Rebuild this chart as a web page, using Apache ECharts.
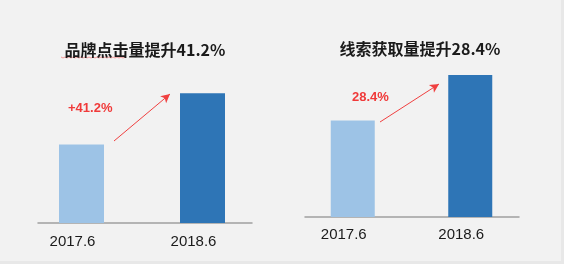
<!DOCTYPE html>
<html><head><meta charset="utf-8">
<script src="https://cdn.jsdelivr.net/npm/echarts@6/dist/echarts.min.js"></script>
<style>html,body{margin:0;padding:0;background:#f2f2f2}#c{width:564px;height:264px}</style>
</head><body><div id="c"></div>
<script>
const categories = ['2017.6', '2018.6'];
const clickValues = [60, 99];
const leadValues = [68, 100];
const clickTitle = '品牌点击量提升41.2%';
const leadTitle = '线索获取量提升28.4%';
const clickNote = '+41.2%';
const leadNote = '28.4%';
const barColors = ['#9dc3e6', '#2e75b6'];

const chart = echarts.init(document.getElementById('c'));
const labelStyle = {color:'#1a1a1a', fontSize:15, fontFamily:'Liberation Sans, Arial, sans-serif', padding:[0,18,0,0]};
function barData(vals){return vals.map((v,i)=>({value:v, itemStyle:{color:barColors[i]}}));}
// squiggle under part of the first title (spell-check mark in the original)
const squiggle = [];
for (let x = 61, k = 0; x <= 126; x += 2, k++) squiggle.push([x, 57 + (k % 2 ? 1 : 0)]);
const titleStyle = {fontSize:16, fontWeight:'bold', color:'#1a1a1a', fontFamily:'Noto Sans CJK SC'};
chart.setOption({
  backgroundColor:'#f2f2f2',
  animation:false,
  title:[
    {text:clickTitle, left:140, top:37, textAlign:'center', textStyle:titleStyle},
    {text:leadTitle, left:415, top:36, textAlign:'center', textStyle:titleStyle}
  ],
  grid:[
    {left:21, width:242, top:92, bottom:41},
    {left:38, right:312, top:92, bottom:41},
    {left:294, width:235, top:75, bottom:47},
    {left:305, right:45, top:75, bottom:47}
  ],
  xAxis:[
    {gridIndex:0, type:'category', data:categories, axisLine:{show:false}, axisTick:{show:false}, axisLabel:Object.assign({margin:11}, labelStyle)},
    {gridIndex:1, type:'category', data:categories, axisLine:{lineStyle:{color:'#a0a0a0', width:1.5}}, axisTick:{show:false}, axisLabel:{show:false}},
    {gridIndex:2, type:'category', data:categories, axisLine:{show:false}, axisTick:{show:false}, axisLabel:Object.assign({margin:10}, labelStyle)},
    {gridIndex:3, type:'category', data:categories, axisLine:{lineStyle:{color:'#a0a0a0', width:1.5}}, axisTick:{show:false}, axisLabel:{show:false}}
  ],
  yAxis:[0,1,2,3].map(i=>({gridIndex:i, type:'value', min:0, max:100, show:false, splitLine:{show:false}})),
  series:[
    {type:'bar', xAxisIndex:0, yAxisIndex:0, barWidth:45, data:barData(clickValues), z:3,
     markLine:{silent:true, symbol:['none','arrow'], symbolSize:[7,9], label:{show:false},
       lineStyle:{color:'#f04040', width:1, type:'solid'},
       data:[[{x:114,y:141},{x:170,y:94}]]}},
    {type:'bar', xAxisIndex:2, yAxisIndex:2, barWidth:44, data:barData(leadValues), z:3,
     markLine:{silent:true, symbol:['none','arrow'], symbolSize:[7,9], label:{show:false},
       lineStyle:{color:'#f04040', width:1, type:'solid'},
       data:[[{x:380,y:122},{x:439,y:84}]]}}
  ],
  graphic:[
    {type:'text', left:68, top:102, style:{text:clickNote, fill:'#f03a3a', font:'bold 13px Liberation Sans, Arial, sans-serif'}},
    {type:'text', left:352, top:91, style:{text:leadNote, fill:'#f03a3a', font:'bold 13px Liberation Sans, Arial, sans-serif'}},
    {type:'polyline', shape:{points:squiggle}, style:{stroke:'#f08080', lineWidth:0.8, fill:null}, silent:true},
    {type:'rect', shape:{x:0,y:261,width:564,height:3}, style:{fill:'#e8e8e8'}, silent:true},
    {type:'rect', shape:{x:561,y:0,width:3,height:264}, style:{fill:'#e8e8e8'}, silent:true}
  ]
});
</script></body></html>
